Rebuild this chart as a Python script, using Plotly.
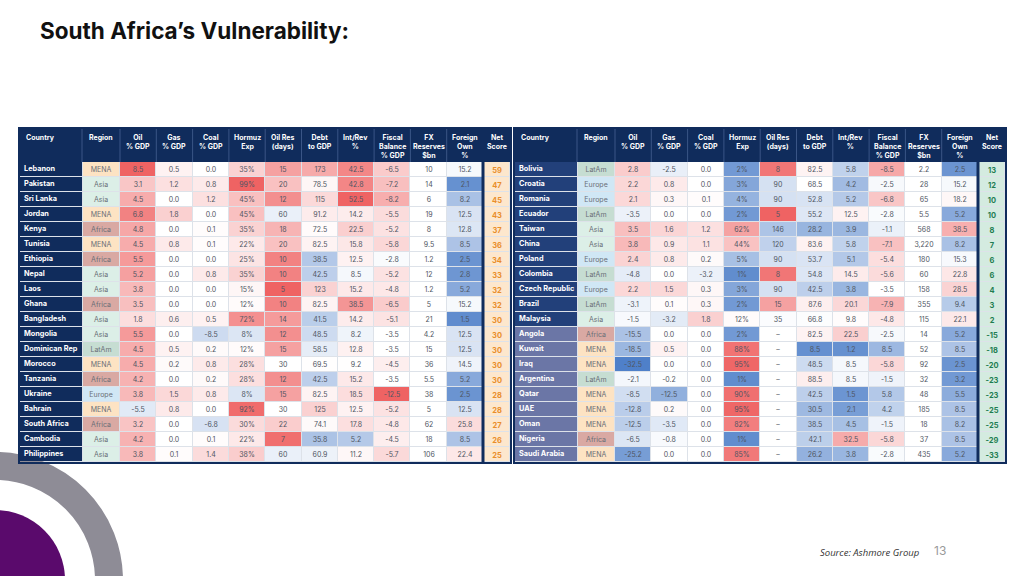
import plotly.graph_objects as go

# ---------------- DATA ----------------
headers = ["Country", "Region", "Oil<br>% GDP", "Gas<br>% GDP", "Coal<br>% GDP", "Hormuz<br>Exp",
           "Oil Res<br>(days)", "Debt<br>to GDP", "Int/Rev<br>%", "Fiscal<br>Balance<br>% GDP",
           "FX<br>Reserves<br>$bn", "Foreign<br>Own<br>%", "Net<br>Score"]
region_names = ["MENA", "Asia", "Africa", "LatAm", "Europe"]

countries_l = ["Lebanon", "Pakistan", "Sri Lanka", "Jordan", "Kenya", "Tunisia", "Ethiopia", "Nepal", "Laos",
               "Ghana", "Bangladesh", "Mongolia", "Dominican Rep", "Morocco", "Tanzania", "Ukraine", "Bahrain",
               "South Africa", "Cambodia", "Philippines"]
regions_l = ["MENA", "Asia", "Asia", "MENA", "Africa", "MENA", "Africa", "Asia", "Asia", "Africa", "Asia", "Asia",
             "LatAm", "MENA", "Africa", "Europe", "MENA", "Africa", "Asia", "Asia"]
oil_l = [8.5, 3.1, 4.5, 6.8, 4.8, 4.5, 5.5, 5.2, 3.8, 3.5, 1.8, 5.5, 4.5, 4.5, 4.2, 3.8, -5.5, 3.2, 4.2, 3.8]
gas_l = [0.5, 1.2, 0.0, 1.8, 0.0, 0.8, 0.0, 0.0, 0.0, 0.0, 0.6, 0.0, 0.5, 0.2, 0.0, 1.5, 0.8, 0.0, 0.0, 0.1]
coal_l = [0.0, 0.8, 1.2, 0.0, 0.1, 0.1, 0.0, 0.8, 0.0, 0.0, 0.5, -8.5, 0.2, 0.8, 0.2, 0.8, 0.0, -6.8, 0.1, 1.4]
hormuz_l = [35, 99, 45, 45, 35, 22, 25, 35, 15, 12, 72, 8, 12, 28, 28, 8, 92, 30, 22, 38]
oilres_l = [15, 20, 12, 60, 18, 20, 10, 10, 5, 10, 14, 12, 15, 30, 12, 15, 30, 22, 7, 60]
debt_l = [173, 78.5, 115, 91.2, 72.5, 82.5, 38.5, 42.5, 123, 82.5, 41.5, 48.5, 58.5, 69.5, 42.5, 82.5, 125, 74.1,
          35.8, 60.9]
intrev_l = [42.5, 42.8, 52.5, 14.2, 22.5, 15.8, 12.5, 8.5, 15.2, 38.5, 14.2, 8.2, 12.8, 9.2, 15.2, 18.5, 12.5,
            17.8, 5.2, 11.2]
fiscal_l = [-6.5, -7.2, -8.2, -5.5, -5.2, -5.8, -2.8, -5.2, -4.8, -6.5, -5.1, -3.5, -3.5, -4.5, -3.5, -12.5, -5.2,
            -4.8, -4.5, -5.7]
fx_l = [10, 14, 6, 19, 8, 9.5, 1.2, 12, 1.2, 5, 21, 4.2, 15, 36, 5.5, 38, 5, 62, 18, 106]
foreign_l = [15.2, 2.1, 8.2, 12.5, 12.8, 8.5, 2.5, 2.8, 5.2, 15.2, 1.5, 12.5, 12.5, 14.5, 5.2, 2.5, 12.5, 25.8,
             8.5, 22.4]
net_l = [59, 47, 45, 43, 37, 36, 34, 33, 32, 32, 30, 30, 30, 30, 30, 28, 28, 27, 26, 25]

countries_r = ["Bolivia", "Croatia", "Romania", "Ecuador", "Taiwan", "China", "Poland", "Colombia",
               "Czech Republic", "Brazil", "Malaysia", "Angola", "Kuwait", "Iraq", "Argentina", "Qatar", "UAE",
               "Oman", "Nigeria", "Saudi Arabia"]
regions_r = ["LatAm", "Europe", "Europe", "LatAm", "Asia", "Asia", "Europe", "LatAm", "Europe", "LatAm", "Asia",
             "Africa", "MENA", "MENA", "LatAm", "MENA", "MENA", "MENA", "Africa", "MENA"]
oil_r = [2.8, 2.2, 2.1, -3.5, 3.5, 3.8, 2.4, -4.8, 2.2, -3.1, -1.5, -15.5, -18.5, -32.5, -2.1, -8.5, -12.8, -12.5,
         -6.5, -25.2]
gas_r = [-2.5, 0.8, 0.3, 0.0, 1.6, 0.9, 0.8, 0.0, 1.5, 0.1, -3.2, 0.0, 0.5, 0.0, -0.2, -12.5, 0.2, -3.5, -0.8, 0.0]
coal_r = [0.0, 0.0, 0.1, 0.0, 1.2, 1.1, 0.2, -3.2, 0.3, 0.3, 1.8, 0.0, 0.0, 0.0, 0.0, 0.0, 0.0, 0.0, 0.0, 0.0]
hormuz_r = [2, 3, 4, 2, 62, 44, 5, 1, 3, 2, 12, 2, 88, 95, 1, 90, 95, 82, 1, 85]
oilres_r = [8, 90, 90, 5, 146, 120, 90, 8, 90, 15, 35, None, None, None, None, None, None, None, None, None]
debt_r = [82.5, 68.5, 52.8, 55.2, 28.2, 83.6, 53.7, 54.8, 42.5, 87.6, 66.8, 82.5, 8.5, 48.5, 88.5, 42.5, 30.5,
          38.5, 42.1, 26.2]
intrev_r = [5.8, 4.2, 5.2, 12.5, 3.9, 5.8, 5.1, 14.5, 3.8, 20.1, 9.8, 22.5, 1.2, 8.5, 8.5, 1.5, 2.1, 4.5, 32.5, 3.8]
fiscal_r = [-8.5, -2.5, -6.8, -2.8, -1.1, -7.1, -5.4, -5.6, -3.5, -7.9, -4.8, -2.5, 8.5, -5.8, -1.5, 5.8, 4.2,
            -1.5, -5.8, -2.8]
fx_r = [2.2, 28, 65, 5.5, 568, 3220, 180, 60, 158, 355, 115, 14, 52, 92, 32, 48, 185, 18, 37, 435]
foreign_r = [2.5, 15.2, 18.2, 5.2, 38.5, 8.2, 15.3, 22.8, 28.5, 9.4, 22.1, 5.2, 8.5, 2.5, 3.2, 5.5, 8.5, 8.2, 8.5,
             5.2]
net_r = [13, 12, 10, 10, 8, 7, 6, 6, 4, 3, 2, -15, -18, -20, -23, -23, -25, -25, -29, -33]

# ---------------- STYLE ----------------
FW, FH = 1024, 576
COL_W = [62, 38] + [36.3] * 10 + [27]
HEADER_H = 33
ROW_H = 15
TOP = 129
PAD = 2
NAVY = "#102c5c"
FONT = "Inter"
TEXT_C = "#4f5663"
DIVERGING = [[0, "#4f80c9"], [0.5, "#ffffff"], [1, "#ef6363"]]
REGION_COLORS = {"MENA": "#fde3c3", "Asia": "#dcefe7", "Africa": "#d9a9a3", "LatAm": "#c6ddd2",
                 "Europe": "#d0e7f5"}
# (value at full red, white midpoint, value at full blue) per numeric column
SCALES = [(8.5, 0, -32.5), (6, 0, -20), (6, 0, -30), (97, 10, 0), (5, 30, 280), (260, 68, 0),
          (52.5, 9, 0), (-12.5, -3.5, 18), None, (60, 16, 0)]

f1 = lambda v: f"{v:.1f}"
FORMATS = [f1, f1, f1, lambda v: f"{v:.0f}%", lambda v: "–" if v is None else f"{v:g}",
           lambda v: f"{v:g}", f1, f1, lambda v: f"{v:,g}", f1]


def tval(v, spec):
    if v is None or spec is None:
        return 0.5
    red, mid, blue = spec
    if (v - mid) * (red - mid) > 0:
        return 0.5 + 0.5 * min((v - mid) / (red - mid), 1)
    if v == mid:
        return 0.5
    return 0.5 - 0.5 * min((v - mid) / (blue - mid), 1)


edges = [0]
for w in COL_W:
    edges.append(edges[-1] + w)
W = edges[-1]
N = 20
row_edges = [HEADER_H + i * ROW_H for i in range(N + 1)]
row_centers = [HEADER_H + (i + 0.5) * ROW_H for i in range(N)]
H = row_edges[-1]

fig = go.Figure()


def add_table(k, x0px, countries, regions, numeric, net, country_fill, net_fill, net_color):
    xa, ya = ("x", "y") if k == 1 else ("x2", "y2")
    # header
    fig.add_trace(go.Heatmap(x=edges, y=[0, HEADER_H], z=[[0] * len(COL_W)], colorscale=[[0, NAVY], [1, NAVY]],
                             showscale=False, hoverinfo="skip", xgap=0, ygap=0, xaxis=xa, yaxis=ya))
    for j, h in enumerate(headers):
        left = j == 0
        fig.add_annotation(x=(edges[0] + 4) if left else (edges[j] + edges[j + 1]) / 2, y=2,
                           xref=xa, yref=ya, text=f"<b>{h}</b>", showarrow=False,
                           xanchor="left" if left else "center", yanchor="top",
                           font=dict(size=7, color="white", family=FONT), align="left" if left else "center")
        if 0 < j < len(headers) - 1:
            fig.add_shape(type="line", x0=edges[j], x1=edges[j], y0=0, y1=HEADER_H, xref=xa, yref=ya,
                          line=dict(color="#3a5586", width=1))
    # country column
    cz = [[1 if v < 0 else 0] for v in net]
    fig.add_trace(go.Heatmap(x=edges[0:2], y=row_edges, z=cz, zmin=0, zmax=1,
                             colorscale=[[0, country_fill[0]], [1, country_fill[1]]], showscale=False,
                             hoverinfo="skip", ygap=1, xaxis=xa, yaxis=ya))
    fig.add_trace(go.Scatter(x=[edges[0] + 4] * N, y=row_centers, mode="text",
                             text=[f"<b>{c}</b>" for c in countries], textposition="middle right",
                             textfont=dict(size=7.3, color="white", family=FONT), hoverinfo="skip",
                             cliponaxis=False, showlegend=False, xaxis=xa, yaxis=ya))
    # region column
    rz = [[region_names.index(r)] for r in regions]
    rscale = [[i / (len(region_names) - 1), REGION_COLORS[r]] for i, r in enumerate(region_names)]
    fig.add_trace(go.Heatmap(x=edges[1:3], y=row_edges, z=rz, zmin=0, zmax=len(region_names) - 1,
                             colorscale=rscale, showscale=False, hoverinfo="skip", xgap=2, ygap=1,
                             text=[[r] for r in regions], texttemplate="%{text}",
                             textfont=dict(size=7, color="#6a6f78", family=FONT), xaxis=xa, yaxis=ya))
    # numeric columns
    z = [[tval(numeric[c][i], SCALES[c]) for c in range(10)] for i in range(N)]
    txt = [[FORMATS[c](numeric[c][i]) for c in range(10)] for i in range(N)]
    fig.add_trace(go.Heatmap(x=edges[2:13], y=row_edges, z=z, zmin=0, zmax=1, colorscale=DIVERGING,
                             showscale=False, hoverinfo="skip", xgap=1, ygap=1, text=txt,
                             texttemplate="%{text}", textfont=dict(size=7, color=TEXT_C, family=FONT),
                             xaxis=xa, yaxis=ya))
    # net score
    fig.add_trace(go.Heatmap(x=edges[12:14], y=row_edges, z=[[0]] * N, colorscale=[[0, net_fill], [1, net_fill]],
                             showscale=False, hoverinfo="skip", xgap=1, ygap=1,
                             text=[[f"<b>{v}</b>"] for v in net], texttemplate="%{text}",
                             textfont=dict(size=7.5, color=net_color, family=FONT), xaxis=xa, yaxis=ya))
    # frame and separators
    fig.add_shape(type="line", x0=edges[12], x1=edges[12], y0=0, y1=H, xref=xa, yref=ya,
                  line=dict(color=NAVY, width=3))
    fig.add_shape(type="rect", x0=-1, x1=W + 1, y0=-1, y1=H + 1, xref=xa, yref=ya,
                  line=dict(color=NAVY, width=2))
    dom_x = [(x0px - PAD) / FW, (x0px + W + PAD) / FW]
    dom_y = [1 - (TOP + H + PAD) / FH, 1 - (TOP - PAD) / FH]
    ax = dict(domain=dom_x, range=[-PAD, W + PAD], visible=False, fixedrange=True)
    ay = dict(domain=dom_y, range=[H + PAD, -PAD], visible=False, fixedrange=True)
    if k == 1:
        fig.update_layout(xaxis=ax, yaxis=dict(ay, anchor="x"))
    else:
        fig.update_layout(xaxis2=dict(ax, anchor="y2"), yaxis2=dict(ay, anchor="x2"))


add_table(1, 20, countries_l, regions_l,
          [oil_l, gas_l, coal_l, hormuz_l, oilres_l, debt_l, intrev_l, fiscal_l, fx_l, foreign_l],
          net_l, (NAVY, NAVY), "#fde7cd", "#e98e2a")
add_table(2, 515, countries_r, regions_r,
          [oil_r, gas_r, coal_r, hormuz_r, oilres_r, debt_r, intrev_r, fiscal_r, fx_r, foreign_r],
          net_r, ("#22407a", "#6b76a6"), "#d4ebe0", "#1f7d52")

# decorative circles (bottom-left)
cx, cy = -5, 580
fig.add_shape(type="circle", xref="paper", yref="paper", layer="below",
              x0=(cx - 114) / FW, x1=(cx + 114) / FW, y0=1 - (cy + 114) / FH, y1=1 - (cy - 114) / FH,
              line=dict(color="#8e8c96", width=28))
fig.add_shape(type="circle", xref="paper", yref="paper", layer="below",
              x0=(cx - 70) / FW, x1=(cx + 70) / FW, y0=1 - (cy + 70) / FH, y1=1 - (cy - 70) / FH,
              line=dict(width=0), fillcolor="#5a0a6c")

fig.add_annotation(x=38 / FW, y=1 - 30 / FH, xref="paper", yref="paper", xanchor="left", yanchor="middle",
                   text="<b>South Africa’s Vulnerability:</b>", showarrow=False,
                   font=dict(size=22.5, color="#111111", family=FONT))
fig.add_annotation(x=922 / FW, y=1 - 552 / FH, xref="paper", yref="paper", xanchor="right", yanchor="middle",
                   text="<i>Source: Ashmore Group</i>", showarrow=False,
                   font=dict(size=9.5, color="#333333", family="Open Sans"))
fig.add_annotation(x=932 / FW, y=1 - 550 / FH, xref="paper", yref="paper", xanchor="left", yanchor="middle",
                   text="13", showarrow=False, font=dict(size=12, color="#9a9a9a", family=FONT))

fig.update_layout(width=FW, height=FH, margin=dict(l=0, r=0, t=0, b=0), paper_bgcolor="white",
                  plot_bgcolor="#dde2e9", showlegend=False)
fig.write_html("out.html", config={"displayModeBar": False},
               post_script="document.body.style.margin='0';")
